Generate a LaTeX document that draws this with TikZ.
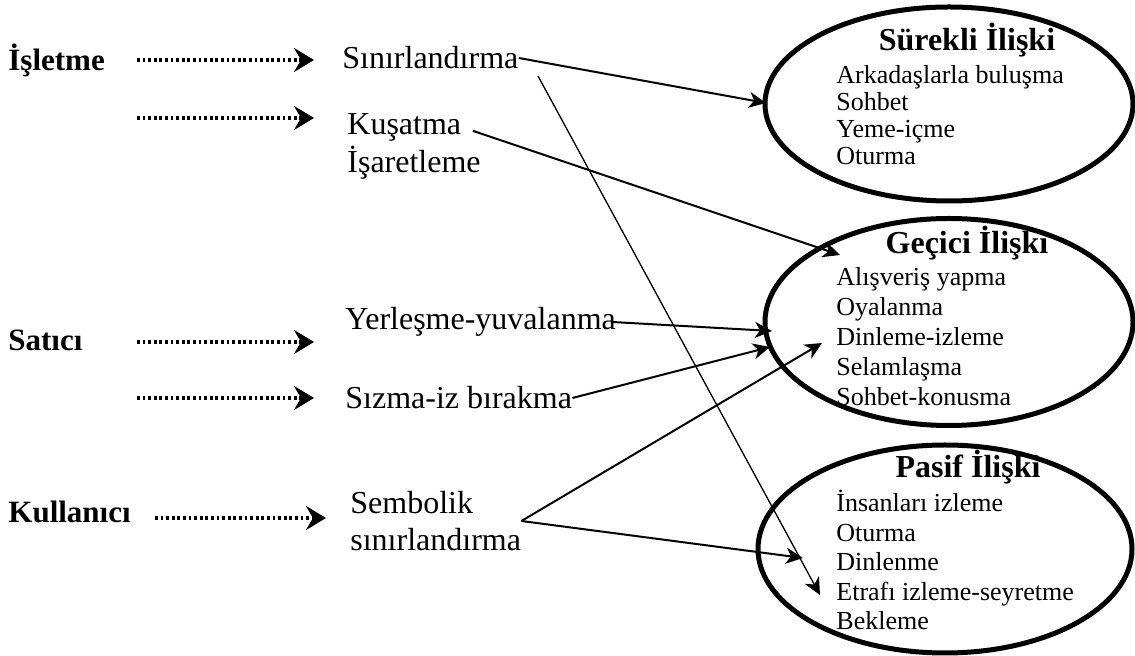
\documentclass[tikz,border=0pt]{standalone}
\usepackage{fontspec}
\setmainfont{Liberation Serif}
\usetikzlibrary{arrows.meta, shapes.geometric, positioning}
\tikzset{
  actor/.style={font=\fontsize{15.5}{18}\selectfont\bfseries, anchor=west, inner sep=0pt},
  tactic/.style={font=\fontsize{16}{18.5}\selectfont, anchor=west, inner sep=0pt, align=left},
  relation/.style={ellipse, draw, line width=2.5pt, inner sep=0pt},
  reltitle/.style={font=\fontsize{16}{18}\selectfont\bfseries, inner sep=0pt},
  item/.style={font=\fontsize{13}{15}\selectfont, anchor=base west, inner sep=0pt},
  dotarrow/.style={line width=1.6pt, dash pattern=on 1.4pt off 1.4pt, -{Stealth[length=10pt, width=12pt, inset=3.5pt]}},
  arrow/.style={line width=1pt, -{Stealth[length=8.5pt, width=8pt, inset=2.5pt]}}
}
\begin{document}
\begin{tikzpicture}[x=0.5pt, y=-0.5pt]
        \useasboundingbox (0,0) rectangle (1135,656);

        % iliski elipsleri
        \node (surekli) [relation, minimum width=184pt, minimum height=97pt] at (949,104) {};
        \node (gecici) [relation, minimum width=184pt, minimum height=103.5pt] at (949,322) {};
        \node (pasif) [relation, minimum width=187pt, minimum height=104pt] at (945,549) {};

        \node (sureklit) [reltitle] at (967,40) {Sürekli İlişki};
        \node (gecicit) [reltitle] at (967,243) {Geçici İlişki};
        \node (pasift) [reltitle] at (968,467) {Pasif İlişki};

        \foreach \t [count=\i] in {Arkadaşlarla buluşma, Sohbet, Yeme-içme, Oturma}
          \node (s\i) [item] at (836,{84+26.7*(\i-1)}) {\t};
        \foreach \t [count=\i] in {Alışveriş yapma, Oyalanma, Dinleme-izleme, Selamlaşma, Sohbet-konusma}
          \node (g\i) [item] at (836,{286+30*(\i-1)}) {\t};
        \foreach \t [count=\i] in {İnsanları izleme, Oturma, Dinlenme, Etrafı izleme-seyretme, Bekleme}
          \node (p\i) [item] at (836,{512+29.5*(\i-1)}) {\t};

        % aktorler
        \node (isletme) [actor] at (8,60) {İşletme};
        \node (satici) [actor] at (8,340) {Satıcı};
        \node (kullanici) [actor] at (8,512) {Kullanıcı};

        % taktikler
        \node (sinir) [tactic] at (342,58) {Sınırlandırma};
        \node (kusatma) [tactic] at (347,127) {Kuşatma};
        \node (isaret) [tactic] at (347,163) {İşaretleme};
        \node (yerles) [tactic] at (345,322) {Yerleşme-yuvalanma};
        \node (sizma) [tactic] at (345,398) {Sızma-iz bırakma};
        \node (sembol) [tactic] at (350,521) {Sembolik\\sınırlandırma};

        % noktali oklar
        \coordinate (d1) at (137,60);  \coordinate (t1) at (314,60);
        \coordinate (d2) at (137,118); \coordinate (t2) at (314,118);
        \coordinate (d3) at (137,342); \coordinate (t3) at (314,342);
        \coordinate (d4) at (137,398); \coordinate (t4) at (314,398);
        \coordinate (d5) at (155,518); \coordinate (t5) at (326,518);
        \foreach \i in {1,...,5}
          \draw [dotarrow] (d\i) -- (t\i);

        % hedef noktalar
        \coordinate (e1in) at (766,103);
        \coordinate (g1in) at (840,255);
        \coordinate (g2in) at (772,331);
        \coordinate (g3in) at (770,347);
        \coordinate (g4in) at (822,343);
        \coordinate (p1in) at (820,595);
        \coordinate (p2in) at (803,558);
        \coordinate (sinirb) at (538,76);

        \draw [arrow] (sinir.east) -- (e1in);
        \draw [arrow, line width=0.65pt] (sinirb) -- (p1in);
        \draw [arrow, shorten <=6pt] (kusatma.east) -- (g1in);
        \draw [arrow] ([xshift=-2pt]yerles.east) -- (g2in);
        \draw [arrow] (sizma.east) -- (g3in);
        \draw [arrow] (sembol.east) -- (g4in);
        \draw [arrow] (sembol.east) -- (p2in);
    \end{tikzpicture}
\end{document}
